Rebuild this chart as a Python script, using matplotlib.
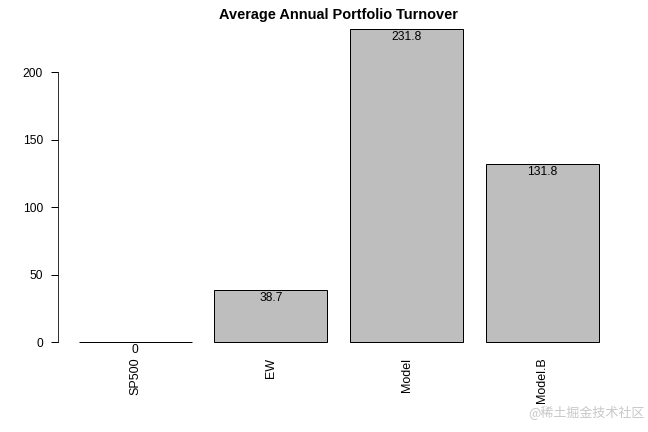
import matplotlib
matplotlib.use("Agg")
import matplotlib.pyplot as plt

categories = ["SP500", "EW", "Model", "Model.B"]
values = [0.0, 38.7, 231.8, 131.8]
labels = ["0", "38.7", "231.8", "131.8"]
yticks = [0, 50, 100, 150, 200]

plt.rcParams['font.family'] = ['Liberation Sans', 'DejaVu Sans']

fig = plt.figure(figsize=(9, 6), dpi=72)
left, right, bottom, top_ = 0.0895, 0.956, 0.179, 0.9616
ax = fig.add_axes([left, bottom, right - left, top_ - bottom])

xpos = [0.7 + 1.2 * i for i in range(len(categories))]
ax.bar(xpos, values, width=1.0, color="#bebebe", edgecolor="black", linewidth=1.0)

for x, v, lab in zip(xpos, values, labels):
    ax.annotate(lab, (x, v), xytext=(0, -2), textcoords="offset points",
                ha="center", va="top", fontsize=12)

ax.set_xlim(0.016, 4.984)
top = max(values)
ax.set_ylim(-0.04 * top, top * 1.04)

for s in ["top", "right", "bottom"]:
    ax.spines[s].set_visible(False)
ax.spines["left"].set_bounds(0, 200)
ax.set_yticks(yticks)
ax.set_yticklabels([str(t) for t in yticks], fontsize=12)
ax.tick_params(axis="y", length=7, width=1, pad=8)
ax.set_xticks(xpos)
ax.set_xticklabels(categories, rotation=90, fontsize=12.5, va="top")
ax.tick_params(axis="x", length=0, pad=3)

fig.text((left + right) / 2, 0.965, "Average Annual Portfolio Turnover",
         ha="center", va="center", fontsize=14.5, fontweight="bold")

fig.text(0.995, 0.046, "@稀土掘金技术社区", ha="right", va="center", fontsize=13,
         color="#c8c8c8", family=["Noto Sans CJK SC", "DejaVu Sans"])

fig.savefig("out.png", dpi=72)
